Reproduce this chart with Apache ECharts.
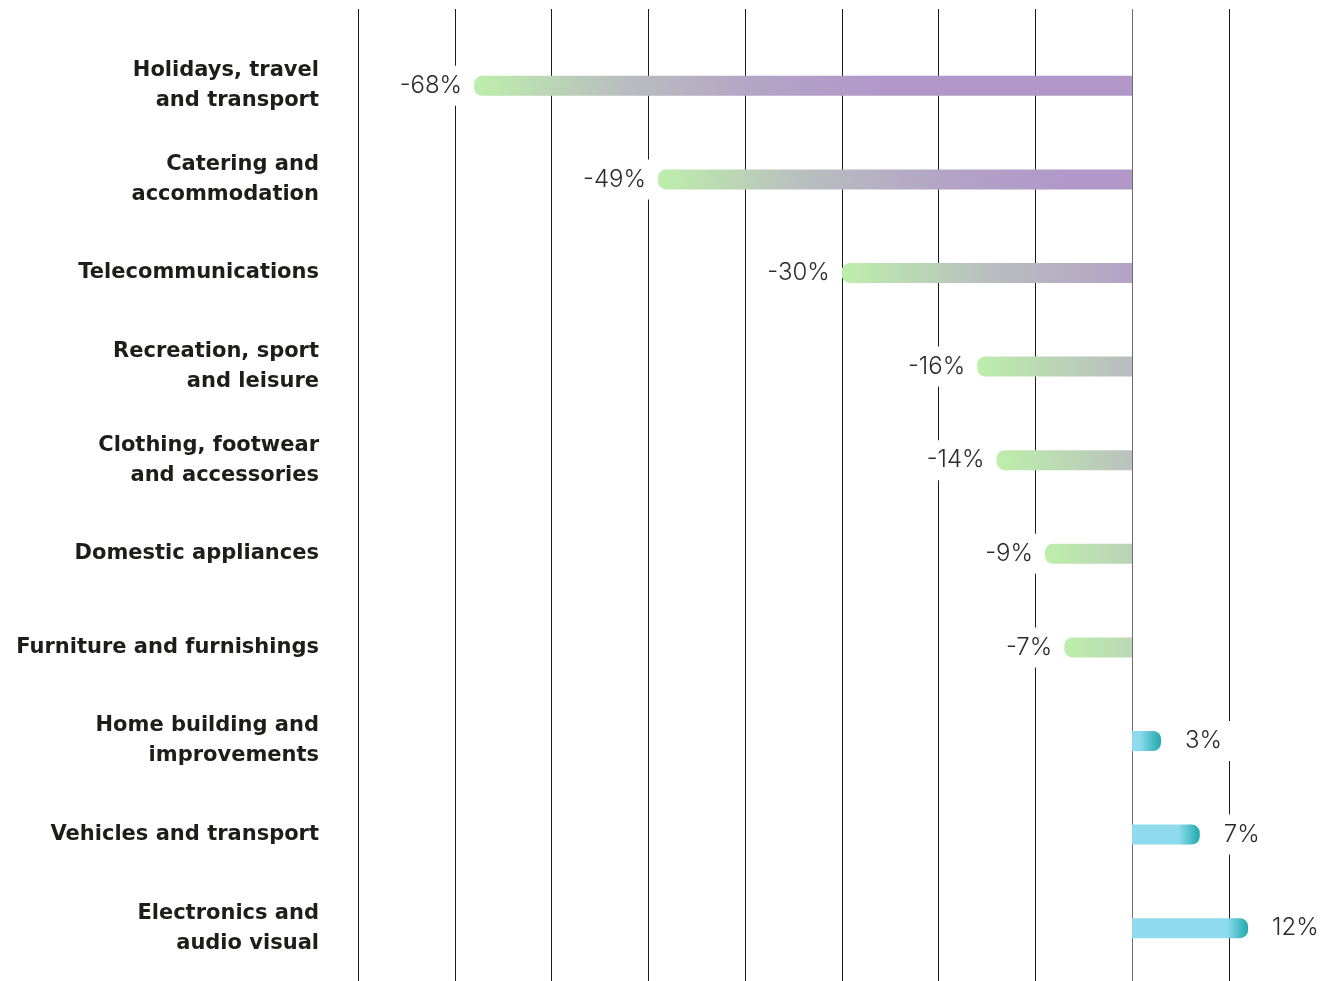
<!DOCTYPE html>
<html>
<head>
<meta charset="utf-8">
<script src="https://cdn.jsdelivr.net/npm/echarts@6/dist/echarts.min.js"></script>
<style>
  html, body { margin: 0; padding: 0; background: #ffffff; }
  #chart { width: 1320px; height: 981px; }
</style>
</head>
<body>
<div id="chart"></div>
<script>
// Change in spending by category (%)
const categories = [
  'Holidays, travel\nand transport',
  'Catering and\naccommodation',
  'Telecommunications',
  'Recreation, sport\nand leisure',
  'Clothing, footwear\nand accessories',
  'Domestic appliances',
  'Furniture and furnishings',
  'Home building and\nimprovements',
  'Vehicles and transport',
  'Electronics and\naudio visual'
];
const values = [-68, -49, -30, -16, -14, -9, -7, 3, 7, 12];

// Value axis range and gridline step
const axisMin = -80;
const axisMax = 20;
const axisStep = 10;

// Fill colours
const negStops = ['#bdeeab', '#b9bdbf', '#b3a3c6', '#b198c9'];
const negSpan = 42;          // % length over which the green -> purple blend runs
const posLight = '#8edbee';
const posDark = '#1fa9ae';
const posEdge = 2.2;         // % length of the darker rounded tip

function barFill(v) {
  if (v < 0) {
    const k = negSpan / Math.abs(v);
    return new echarts.graphic.LinearGradient(0, 0, k, 0, [
      { offset: 0, color: negStops[0] },
      { offset: 0.37, color: negStops[1] },
      { offset: 0.72, color: negStops[2] },
      { offset: 1, color: negStops[3] }
    ]);
  }
  const s = Math.max(0, 1 - posEdge / v);
  return new echarts.graphic.LinearGradient(0, 0, 1, 0, [
    { offset: 0, color: posLight },
    { offset: s, color: posLight },
    { offset: 1, color: posDark }
  ]);
}

const barData = values.map(v => ({
  value: v,
  itemStyle: {
    color: barFill(v),
    borderRadius: v < 0 ? [8, 0, 0, 8] : [0, 8, 8, 0]
  },
  label: v < 0
    ? { position: 'left', distance: 2 }
    : { position: 'right', distance: 14 }
}));

const gridColors = [];
for (let t = axisMin; t <= axisMax; t += axisStep) {
  gridColors.push(t === 0 ? '#6e6e6e' : '#1c1c1c');
}

const chart = echarts.init(document.getElementById('chart'), null, { renderer: 'canvas' });

chart.setOption({
  backgroundColor: '#ffffff',
  animation: false,
  grid: [
    { left: 358, width: 967.5, top: 9, bottom: 0, outerBoundsMode: 'none', containLabel: false },
    { left: 358, width: 967.5, top: 39, height: 936, outerBoundsMode: 'none', containLabel: false }
  ],
  xAxis: [
    {
      gridIndex: 0, type: 'value', min: axisMin, max: axisMax, interval: axisStep,
      axisLine: { show: false }, axisTick: { show: false }, axisLabel: { show: false },
      splitLine: { show: true, lineStyle: { color: gridColors, width: 1 } }
    },
    {
      gridIndex: 1, type: 'value', min: axisMin, max: axisMax, interval: axisStep,
      axisLine: { show: false }, axisTick: { show: false }, axisLabel: { show: false },
      splitLine: { show: false }
    }
  ],
  yAxis: [
    {
      gridIndex: 0, type: 'value', min: 0, max: 1, show: false
    },
    {
      gridIndex: 1, type: 'category', data: categories, inverse: true,
      axisLine: { show: false }, axisTick: { show: false }, splitLine: { show: false },
      axisLabel: {
        margin: 39,
        color: '#1d1d1b',
        fontFamily: '"DejaVu Sans", "Noto Sans", sans-serif',
        fontWeight: 700,
        fontSize: 21,
        lineHeight: 30,
        align: 'right'
      }
    }
  ],
  series: [
    {
      type: 'scatter', xAxisIndex: 0, yAxisIndex: 0, data: [], silent: true
    },
    {
      type: 'bar', xAxisIndex: 1, yAxisIndex: 1,
      barWidth: 20,
      data: barData,
      label: {
        show: true,
        formatter: '{c}%',
        color: '#2b2b2b',
        fontFamily: 'Inter, "Noto Sans", sans-serif',
        fontWeight: 300,
        fontSize: 24,
        backgroundColor: '#ffffff',
        padding: [8, 10]
      }
    }
  ]
});
</script>
</body>
</html>
